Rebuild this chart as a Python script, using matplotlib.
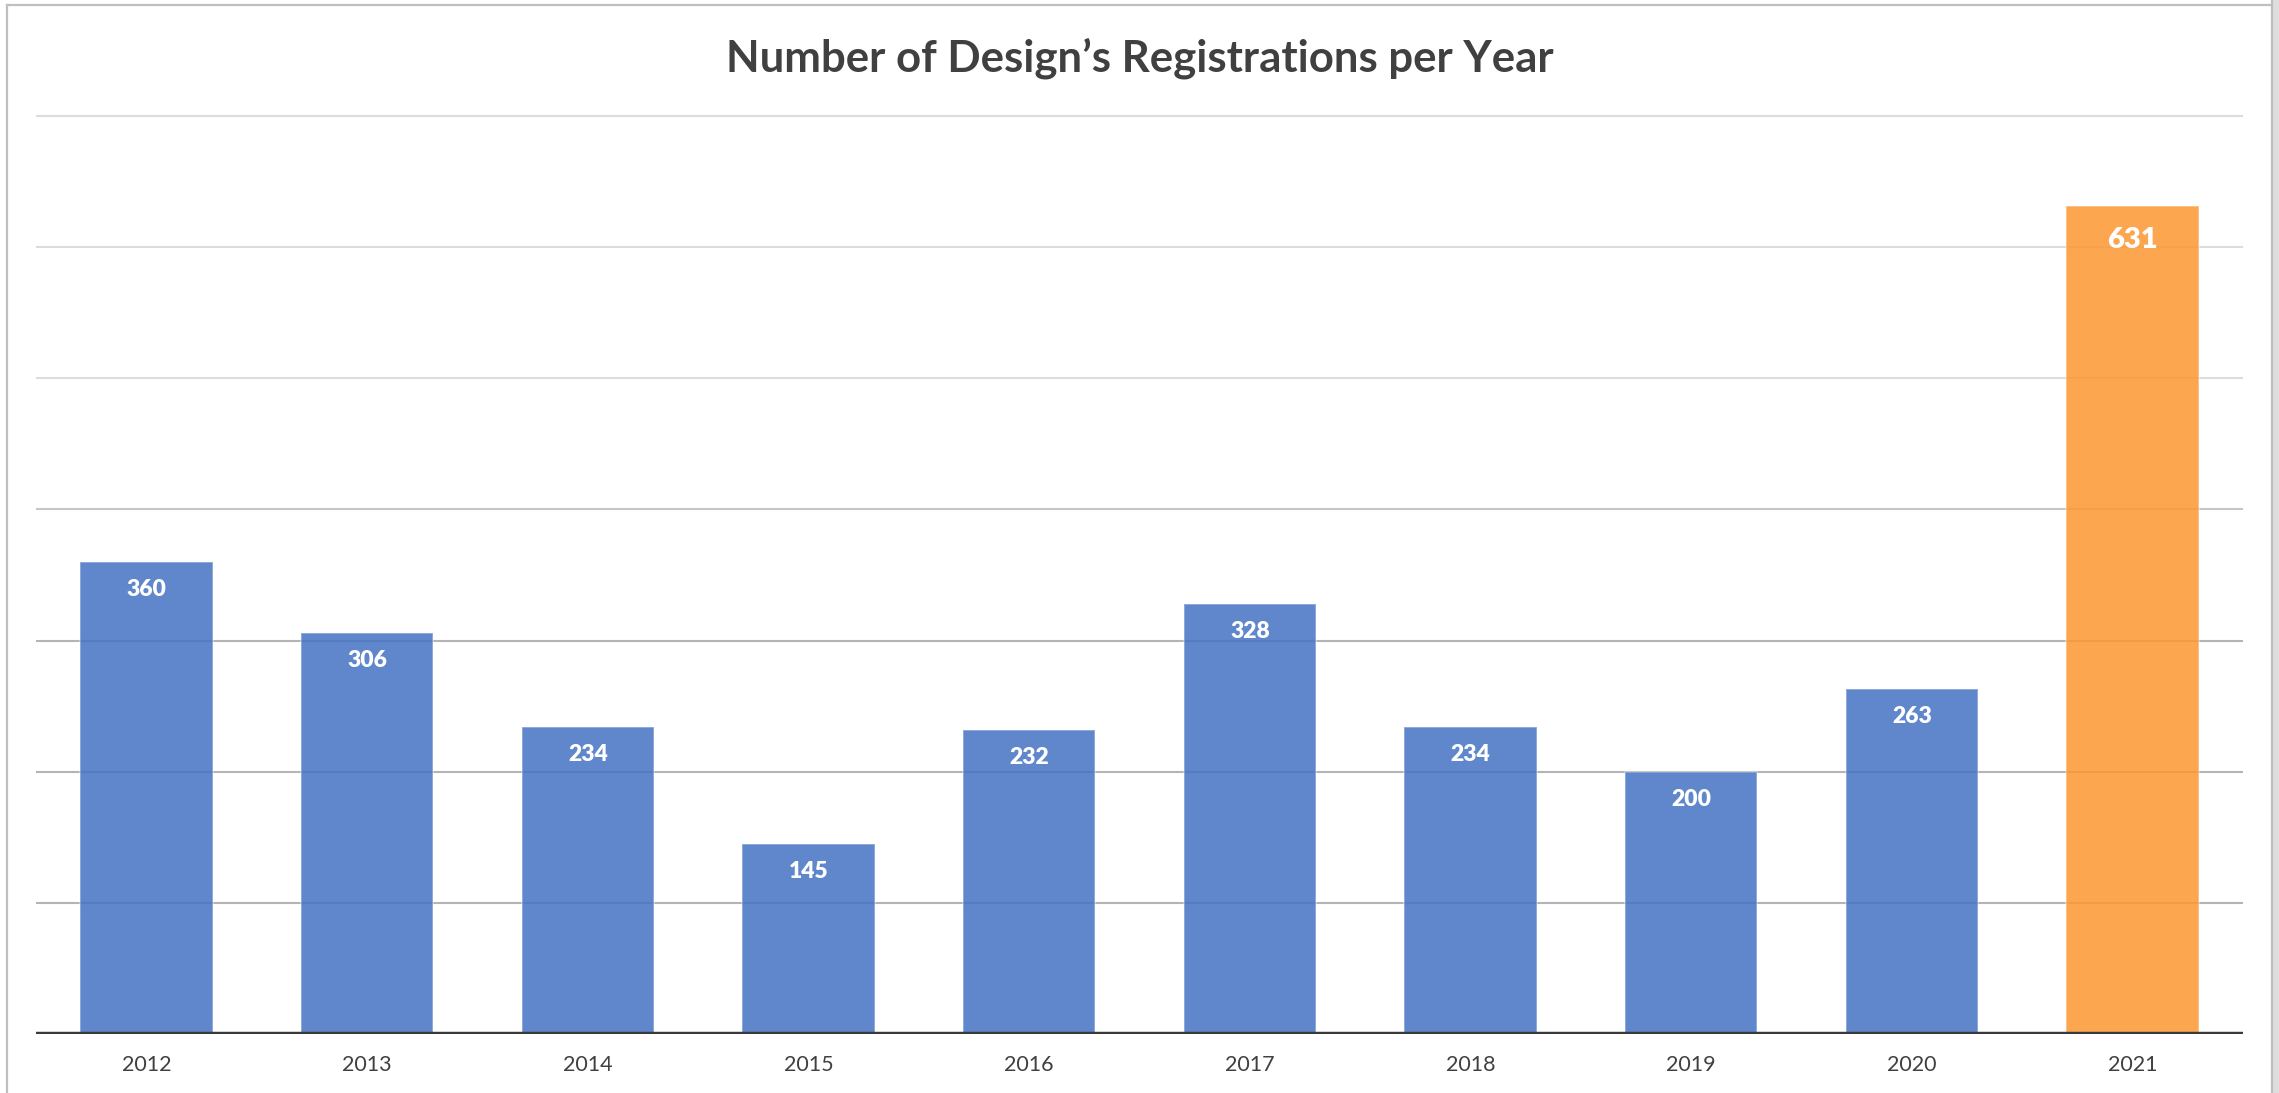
import matplotlib.pyplot as plt
from matplotlib.colors import to_rgba
from matplotlib.patches import Rectangle
from matplotlib.lines import Line2D

years = ['2012', '2013', '2014', '2015', '2016', '2017', '2018', '2019', '2020', '2021']
registrations = [360, 306, 234, 145, 232, 328, 234, 200, 263, 631]
grid_values = [100, 200, 300, 400, 500, 600, 700]
grid_colors = ['#b4b4b4', '#b4b4b4', '#b4b4b4', '#c6c6c6', '#dcdcdc', '#dcdcdc', '#dcdcdc']

blue = to_rgba('#4472C4', 0.85)
orange = to_rgba('#FD9731', 0.85)
edge = to_rgba('#ffffff', 0.35)

plt.rcParams['font.family'] = ['Lato', 'DejaVu Sans']

fig = plt.figure(figsize=(22.79, 10.93), dpi=100)
ax = fig.add_axes([0.0158, 0.054, 0.9684, 0.8459])

x = list(range(len(years)))
colors = [orange if y == '2021' else blue for y in years]
bars = ax.bar(x, registrations, width=0.6, color=colors, edgecolor=edge, linewidth=1.2, zorder=2)

for v, c in zip(grid_values, grid_colors):
    ax.axhline(v, color=c, linewidth=1.5, zorder=1)

ax.axhline(0, color='#3a3a3a', linewidth=3.2, zorder=3)

for i, (b, v) in enumerate(zip(bars, registrations)):
    big = years[i] == '2021'
    ax.annotate(str(v), (b.get_x() + b.get_width() / 2, v),
                xytext=(0, -24 if big else -20), textcoords='offset points',
                ha='center', va='center', color='white', fontweight='heavy',
                fontsize=21 if big else 16.5, zorder=4)

ax.set_xlim(-0.5, len(years) - 0.5)
ax.set_ylim(0, 705)
ax.set_xticks(x)
ax.set_xticklabels(years, fontsize=15.5, color='#404040')
ax.tick_params(axis='x', length=0, pad=15)
ax.set_yticks([])
for s in ax.spines.values():
    s.set_visible(False)

fig.text(0.5, 0.947, 'Number of Design\u2019s Registrations per Year', ha='center', va='center',
         fontsize=31.5, fontweight='bold', color='#404040')

# screenshot frame
W, H = 2279, 1093
fig.add_artist(Line2D([7 / W, 7 / W], [0, 1 - 5 / H], color='#bfbfbf', linewidth=1.6))
fig.add_artist(Line2D([7 / W, 2272 / W], [1 - 5 / H, 1 - 5 / H], color='#bfbfbf', linewidth=1.6))
fig.add_artist(Rectangle((2272 / W, 0), 7 / W, 1, transform=fig.transFigure,
                         facecolor='#dedede', edgecolor='none'))
fig.add_artist(Line2D([2272 / W, 2272 / W], [0, 1], color='#bdbdbd', linewidth=1.6))

fig.savefig('out.png', dpi=100)
